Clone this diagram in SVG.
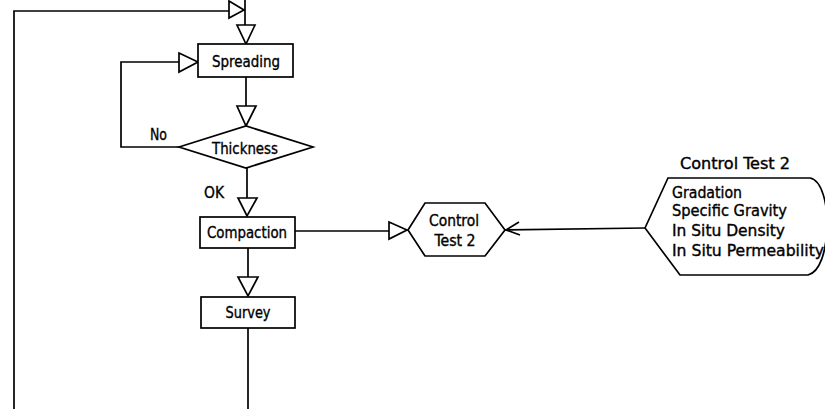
<svg xmlns="http://www.w3.org/2000/svg" width="825" height="409" viewBox="0 0 825 409">
  <style>
    .ln { fill: none; stroke: #000; stroke-width: 1.7; }
    .box { fill: #fff; stroke: #000; stroke-width: 1.7; }
    .tri { fill: #fff; stroke: #000; stroke-width: 1.7; stroke-linejoin: miter; }
    .t { font-family: "Liberation Sans Narrow", "DejaVu Sans Condensed", "Liberation Sans", sans-serif; font-size: 16px; fill: #000; stroke: #000; stroke-width: 0.35; }
    .c { text-anchor: middle; }
  </style>
  <rect width="825" height="409" fill="#fff"/>

  <!-- connectors -->
  <g id="connectors">
    <!-- return loop from Survey back to the top -->
    <line class="ln" x1="248" y1="328" x2="248" y2="409"/>
    <polyline class="ln" points="14,409 14,11 229,11"/>
    <polygon class="tri" points="229,1 244,10 229,18"/>
    <line class="ln" x1="245" y1="0" x2="245" y2="25"/>
    <polygon class="tri" points="237,25 255,25 246,44"/>
    <!-- Spreading -> Thickness -->
    <line class="ln" x1="246" y1="77" x2="246" y2="106"/>
    <polygon class="tri" points="237,106 256,106 246,126"/>
    <!-- No loop -->
    <polyline class="ln" points="179,147 121,147 121,62 179,62"/>
    <polygon class="tri" points="179,53 198,62 179,72"/>
    <!-- OK -> Compaction -->
    <line class="ln" x1="247" y1="168" x2="247" y2="198"/>
    <polygon class="tri" points="238,198 257,198 247,216"/>
    <!-- Compaction -> Survey -->
    <line class="ln" x1="248" y1="248" x2="248" y2="277"/>
    <polygon class="tri" points="238,277 258,277 248,296"/>
    <!-- Compaction -> Control Test 2 -->
    <line class="ln" x1="295" y1="231" x2="389" y2="231"/>
    <polygon class="tri" points="389,222 407,230 389,239"/>
    <!-- card -> Control Test 2 -->
    <line class="ln" x1="505" y1="230" x2="645" y2="228"/>
    <polyline class="ln" points="519,222 506,230 520,235"/>
  </g>

  <g id="spreading">
    <rect class="box" x="198" y="44" width="95" height="33"/>
    <text class="t c" x="246" y="67" textLength="68" lengthAdjust="spacingAndGlyphs">Spreading</text>
  </g>

  <g id="thickness">
    <polygon class="box" points="179,147 246,126 313,147 246,168"/>
    <text class="t c" x="245" y="154" textLength="66" lengthAdjust="spacingAndGlyphs">Thickness</text>
  </g>
  <text class="t" x="150" y="140" textLength="17" lengthAdjust="spacingAndGlyphs">No</text>
  <text class="t" x="204" y="198" textLength="20" lengthAdjust="spacingAndGlyphs">OK</text>

  <g id="compaction">
    <rect class="box" x="200" y="217" width="95" height="31"/>
    <text class="t c" x="247" y="238" textLength="80" lengthAdjust="spacingAndGlyphs">Compaction</text>
  </g>

  <g id="survey">
    <rect class="box" x="201" y="297" width="94" height="31"/>
    <text class="t c" x="248" y="318" textLength="45" lengthAdjust="spacingAndGlyphs">Survey</text>
  </g>

  <g id="control-test">
    <polygon class="box" points="408,230 425,203 485,203 505,230 485,256 425,256"/>
    <text class="t c" x="454" y="226" textLength="50" lengthAdjust="spacingAndGlyphs">Control</text>
    <text class="t c" x="455" y="246" textLength="41" lengthAdjust="spacingAndGlyphs">Test  2</text>
  </g>

  <g id="test-card">
    <text class="t" x="680" y="169" textLength="110" lengthAdjust="spacingAndGlyphs">Control Test 2</text>
    <path class="box" d="M645,228 L668,178 L810,178 C822,180 828,205 827,228 C826,252 820,272 808,275 L680,275 Z"/>
    <text class="t" x="672" y="198" textLength="70" lengthAdjust="spacingAndGlyphs">Gradation</text>
    <text class="t" x="672" y="216" textLength="115" lengthAdjust="spacingAndGlyphs">Specific Gravity</text>
    <text class="t" x="672" y="236" textLength="113" lengthAdjust="spacingAndGlyphs">In Situ Density</text>
    <text class="t" x="672" y="256" textLength="152" lengthAdjust="spacingAndGlyphs">In Situ Permeability</text>
  </g>
</svg>
